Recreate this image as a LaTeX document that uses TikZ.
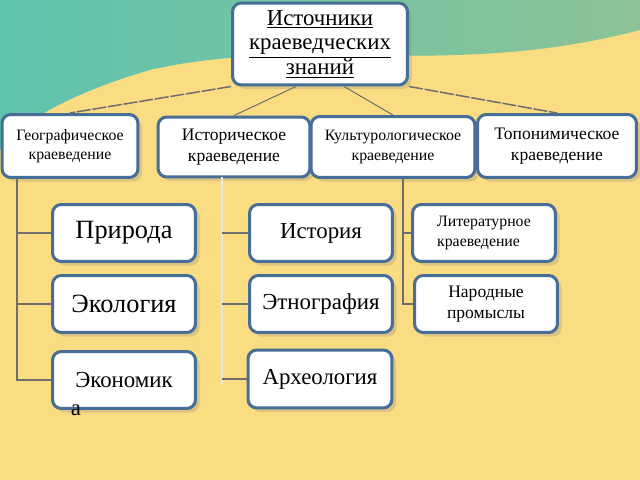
\documentclass[tikz,border=0pt]{standalone}
\usepackage{fontspec}
\setmainfont{Liberation Serif}
\usetikzlibrary{positioning,shadows}
\definecolor{sand}{RGB}{250,220,130}
\definecolor{frame}{RGB}{70,110,150}
\definecolor{linegray}{RGB}{110,110,110}
\definecolor{wavel}{RGB}{95,195,175}
\definecolor{waver}{RGB}{140,195,150}
\tikzstyle{topic} = [rectangle, rounded corners=5pt, align=center, draw=frame, fill=white, line width=0.6mm, drop shadow={opacity=0.25}, inner sep=1pt]
\tikzstyle{link} = [draw=linegray, line width=0.4mm]
\tikzstyle{fade} = [draw=white!80!gray, line width=0.5mm]

\begin{document}
\begin{tikzpicture}[x=0.02cm, y=-0.02cm]
		% Background
		\fill[sand] (0,0) rectangle (640,480);
		\shade[left color=wavel, right color=waver] (0,0) -- (640,0) -- (640,30) .. controls (450,80) and (300,35) .. (150,70) .. controls (80,90) and (20,120) .. (0,150) -- cycle;
		\useasboundingbox (0,0) rectangle (640,480);
		% Nodes
		\node (root) [topic, minimum width=3.5cm, minimum height=1.64cm, font=\fontsize{13}{15}\selectfont] at (320,44) {\underline{Источники}\\[-1pt]\underline{краеведческих}\\[-1pt]\underline{знаний}};
		\node (geo) [topic, minimum width=2.72cm, minimum height=1.26cm, font=\small] at (70,146) {Географическое\\краеведение};
		\node (hist) [topic, minimum width=3.04cm, minimum height=1.2cm] at (234,147) {Историческое\\краеведение};
		\node (cult) [topic, minimum width=3.28cm, minimum height=1.22cm, font=\small] at (393,147) {Культурологическое\\краеведение};
		\node (topo) [topic, minimum width=3.18cm, minimum height=1.26cm] at (557,146) {Топонимическое\\краеведение};
		\node (nature) [topic, minimum width=2.86cm, minimum height=1.14cm, font=\fontsize{15}{17}\selectfont] at (124,233) {Природа};
		\node (ecology) [topic, minimum width=2.86cm, minimum height=1.14cm, font=\fontsize{15}{17}\selectfont] at (124,304) {Экология};
		\node (economy) [topic, minimum width=2.86cm, minimum height=1.14cm, font=\fontsize{13}{15}\selectfont] at (124,380) {Экономик};
		\node (tail) [font=\fontsize{13}{15}\selectfont] at (76,410) {а};
		\node (history) [topic, minimum width=2.86cm, minimum height=1.14cm, font=\fontsize{13}{15}\selectfont] at (321,233) {История};
		\node (ethno) [topic, minimum width=2.86cm, minimum height=1.14cm, font=\fontsize{13}{15}\selectfont] at (321,304) {Этнография};
		\node (archeo) [topic, minimum width=2.88cm, minimum height=1.16cm, font=\fontsize{13}{15}\selectfont] at (320,379) {Археология};
		\node (lit) [topic, minimum width=2.86cm, minimum height=1.14cm, align=left, font=\small] at (484,233) {Литературное\\краеведение};
		\node (crafts) [topic, minimum width=2.86cm, minimum height=1.14cm] at (486,304) {Народные\\промыслы};
		% Lines from the root
		\draw [link, line width=0.3mm, dashed, dash pattern=on 8pt off 1pt] (root.south west) -- (geo.north);
		\draw [link, line width=0.2mm] ([xshift=1.3cm]root.south west) -- (hist.north);
		\draw [link, line width=0.2mm] ([xshift=-1.3cm]root.south east) -- (cult.north);
		\draw [link, line width=0.3mm, dashed, dash pattern=on 8pt off 1pt] (root.south east) -- (topo.north);
		% Branches
		\coordinate (g) at (17,178);
		\draw [link] (g) |- (nature.west);
		\draw [link] (g |- ecology) -- (ecology.west);
		\draw [link] (g) |- (economy.west);
		\coordinate (h) at (222,177);
		\draw [fade] (h) -- (222,384);
		\draw [link] (h |- history) -- (history.west);
		\draw [link] (h |- ethno) -- (ethno.west);
		\draw [link] (h |- archeo) -- (archeo.west);
		\coordinate (c) at (403,178);
		\draw [link] (c) |- (crafts.west);
		\draw [link] (c |- lit) -- (lit.west);
\end{tikzpicture}
\end{document}
